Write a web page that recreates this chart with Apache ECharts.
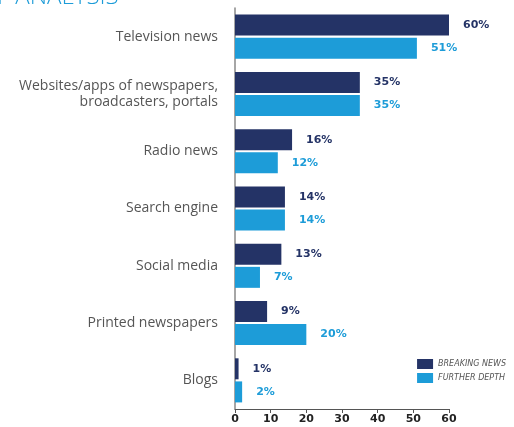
<!DOCTYPE html>
<html>
<head>
<meta charset="utf-8">
<script src="https://cdn.jsdelivr.net/npm/echarts@6/dist/echarts.min.js"></script>
<style>
  html, body { margin: 0; padding: 0; background: #fff; }
  #chart { width: 514px; height: 427px; }
</style>
</head>
<body>
<div id="chart"></div>
<script>
// categories, top to bottom
const categories = [
  "Television news",
  "Websites/apps of newspapers,\nbroadcasters, portals",
  "Radio news",
  "Search engine",
  "Social media",
  "Printed newspapers",
  "Blogs"
];
const breakingNews = [60, 35, 16, 14, 13, 9, 1];
const furtherDepth = [51, 35, 12, 14, 7, 20, 2];
const xTicks = [0, 10, 20, 30, 40, 50, 60];

const dark = "#243366";
const light = "#1d9cd8";
const font = "'Open Sans', sans-serif";
const boldFont = "'DejaVu Sans', sans-serif";

const chart = echarts.init(document.getElementById("chart"));

const option = {
  animation: false,
  graphic: [
    {
      type: "text",
      left: -3,
      top: -15,
      style: { text: "F ANALYSIS", fill: light, font: "300 24px " + font }
    }
  ],
  legend: {
    right: 3,
    top: 354,
    orient: "vertical",
    itemWidth: 16,
    itemHeight: 10,
    itemGap: 4,
    icon: "rect",
    textStyle: { color: "#555", fontSize: 8, fontStyle: "italic", fontFamily: boldFont },
    formatter: (n) => n.toUpperCase(),
    data: ["Breaking news", "Further depth"]
  },
  grid: { left: 235, right: 65, top: 8, bottom: 18, containLabel: false },
  xAxis: {
    type: "value",
    min: xTicks[0],
    max: xTicks[xTicks.length - 1],
    interval: 10,
    splitLine: { show: false },
    axisLine: { show: true, lineStyle: { color: "#555", width: 1 } },
    axisTick: { show: true, length: 4, lineStyle: { color: "#555" } },
    axisLabel: { color: "#222", fontWeight: "bold", fontSize: 11, fontFamily: boldFont, margin: 5 }
  },
  yAxis: {
    type: "category",
    inverse: true,
    data: categories,
    axisLine: { show: true, lineStyle: { color: "#888", width: 1.5 } },
    axisTick: { show: false },
    axisLabel: {
      color: "#555",
      fontSize: 14,
      fontFamily: font,
      margin: 17,
      lineHeight: 16,
      align: "right"
    }
  },
  series: [
    {
      name: "Breaking news",
      type: "bar",
      data: breakingNews,
      barWidth: 21,
      barGap: "10%",
      itemStyle: { color: dark },
      label: {
        show: true,
        position: "right",
        distance: 14,
        formatter: "{c}%",
        color: dark,
        fontWeight: "bold",
        fontSize: 11,
        fontFamily: boldFont
      }
    },
    {
      name: "Further depth",
      type: "bar",
      data: furtherDepth,
      barWidth: 21,
      itemStyle: { color: light },
      label: {
        show: true,
        position: "right",
        distance: 14,
        formatter: "{c}%",
        color: light,
        fontWeight: "bold",
        fontSize: 11,
        fontFamily: boldFont
      }
    }
  ]
};

chart.setOption(option);
</script>
</body>
</html>
